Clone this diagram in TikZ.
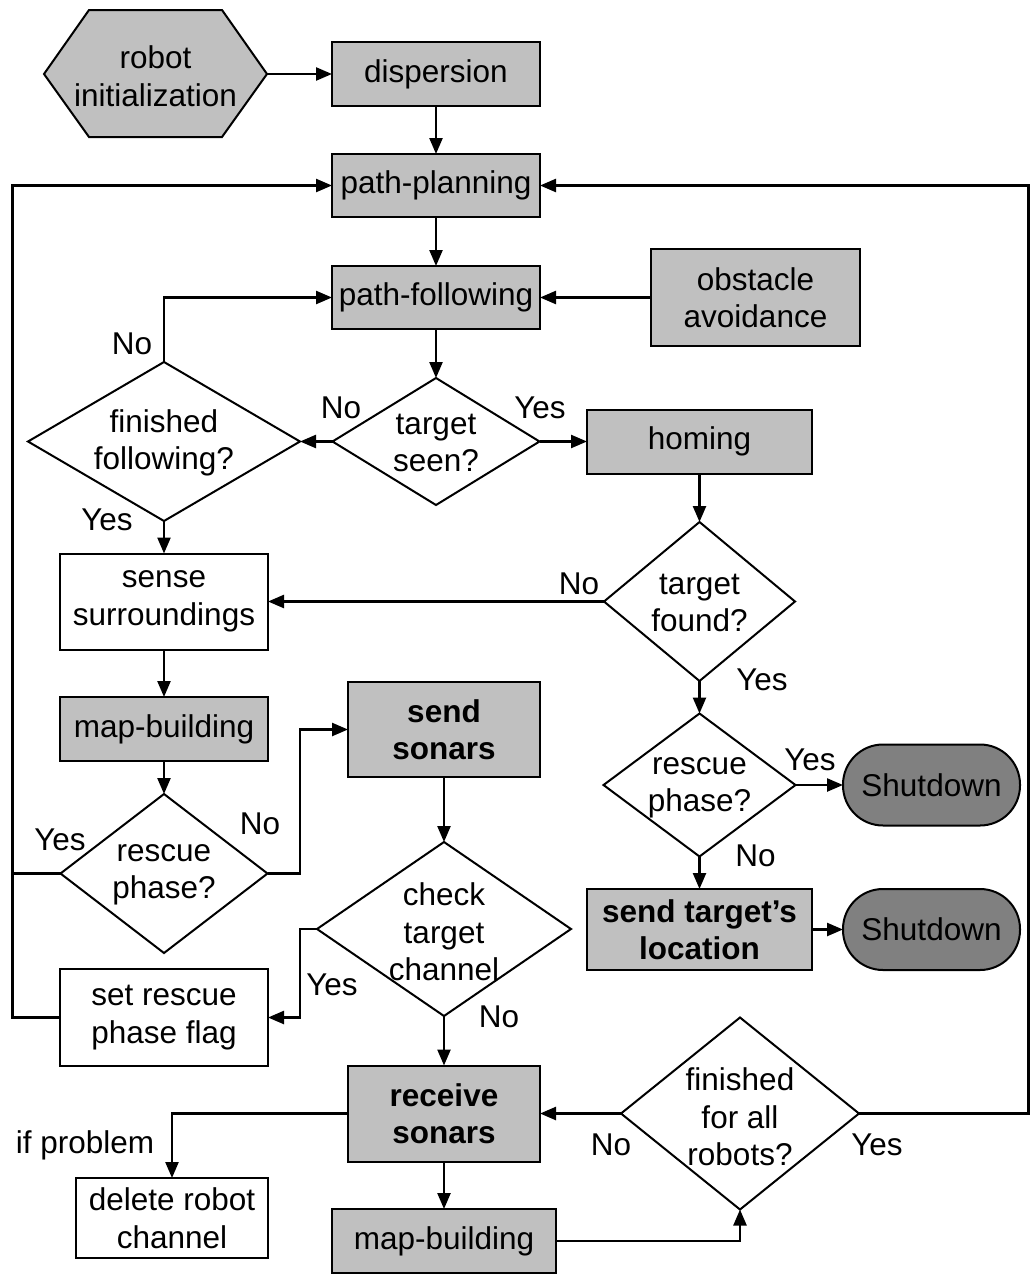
\documentclass[tikz,border=0pt]{standalone}
\usepackage{fontspec}
\setmainfont{Liberation Sans}
\usetikzlibrary{shapes.geometric,arrows.meta}
\definecolor{boxgrey}{RGB}{192,192,192}
\definecolor{endgrey}{RGB}{128,128,128}

\begin{document}
\begin{tikzpicture}[x=1pt,y=-1pt,
  every node/.style={font=\fontsize{31.5}{37.5}\selectfont, align=center, inner sep=0pt, outer sep=0pt},
  frame/.style={draw, line width=2pt, rectangle},
  proc/.style={frame, fill=boxgrey},
  plain/.style={frame, fill=white},
  term/.style={frame, fill=endgrey, rounded corners=40pt},
  decision/.style={diamond, draw, line width=2pt, fill=white},
  sz/.style 2 args={minimum width=#1, minimum height=#2},
  conn/.style={line width=2.4pt, -{Triangle[length=16pt,width=13pt]}},
  wire/.style={line width=2.4pt},
  lbl/.style={}]

\useasboundingbox (0,0) rectangle (1030,1274);

% start: hexagonal initialisation block
\draw[fill=boxgrey, line width=2pt]
  (44,74) -- (89,10) -- (222,10) -- (267,74) -- (222,137) -- (89,137) -- cycle;
\node (init) at (155.5,76) {robot\\initialization};
\coordinate (hexE) at (267,74);

% process boxes
\node[proc, sz={208}{64}] (disp)   at (436,74)    {dispersion};
\node[proc, sz={208}{63}] (plan)   at (436,185.5) {path-planning};
\node[proc, sz={208}{63}] (follow) at (436,297.5) {path-following};
\node[proc, sz={209}{97}] (obst)   at (755.5,297.5) {obstacle\\avoidance};
\node[proc, sz={225}{64}] (homing) at (699.5,441.5) {homing};
\node[plain, sz={208}{96}] (sense) at (164,601.5) {sense\\surroundings};
\node[proc, sz={208}{64}] (mapL)   at (164,729)   {map-building};
\node[proc, sz={192}{95}] (sonars) at (444,729.5) {\bfseries send\\\bfseries sonars};
\node[plain, sz={208}{97}] (flag)  at (164,1017.5) {set rescue\\phase flag};
\node[proc, sz={225}{81}] (sendloc) at (699.5,929.5) {\bfseries send target’s\\\bfseries location};
\node[term, sz={177}{81}] (shut1)  at (931.5,785) {Shutdown};
\node[term, sz={177}{81}] (shut2)  at (931.5,929.5) {Shutdown};
\node[proc, sz={192}{96}] (recv)   at (444,1113.5) {\bfseries receive\\\bfseries sonars};
\node[plain, sz={192}{80}] (del)   at (172,1218)  {delete robot\\channel};
\node[proc, sz={224}{64}] (mapB)   at (444,1241)  {map-building};

% decisions
\node[decision, sz={207}{127}] (seen)  at (436,441.5) {};
\node (seenT) at (436,443) {target\\seen?};
\node[decision, sz={272}{159}] (fin)   at (164,441.5) {};
\node (finT) at (164,443) {finished\\following?};
\node[decision, sz={191}{159}] (found) at (699.5,601.5) {};
\node (foundT) at (699.5,603) {target\\found?};
\node[decision, sz={207}{159}] (rescL) at (164,873.5) {};
\node (rescLT) at (164,875) {rescue\\phase?};
\node[decision, sz={192}{143}] (rescR) at (699.5,785) {};
\node (rescRT) at (699.5,788) {rescue\\phase?};
\node[decision, sz={254}{174}] (check) at (444,929) {};
\node (checkT) at (444,932) {check\\target\\channel};
\node[decision, sz={238}{192}] (all)   at (740,1113.5) {};
\node (allT) at (740,1117) {finished\\for all\\robots?};

% routing rails and bends
\coordinate (leftrail)  at (12.5,600);
\coordinate (rightrail) at (1028.5,600);
\coordinate (bendA)     at (300,900);

% connectors
\draw[conn] (hexE) -- (disp.west);
\draw[conn] (disp.south) -- (plan.north);
\draw[conn] (plan.south) -- (follow.north);
\draw[conn] (follow.south) -- (seen.north);
\draw[conn] (obst.west) -- (follow.east);
\draw[conn] (seen.west) -- (fin.east);
\draw[conn] (seen.east) -- (homing.west);
\draw[conn] (fin.north) |- (follow.west);
\draw[conn] (fin.south) -- (sense.north);
\draw[conn] (homing.south) -- (found.north);
\draw[conn] (found.west) -- (sense.east);
\draw[conn] (found.south) -- (rescR.north);
\draw[conn] (rescR.east) -- (shut1.west);
\draw[conn] (rescR.south) -- (sendloc.north);
\draw[conn] (sendloc.east) -- (shut2.west);
\draw[conn] (sense.south) -- (mapL.north);
\draw[conn] (mapL.south) -- (rescL.north);
\draw[conn] (rescL.east) -- (rescL.east -| bendA) |- (sonars.west);
\draw[conn] (sonars.south) -- (check.north);
\draw[conn] (check.west) -- (check.west -| bendA) |- (flag.east);
\draw[wire] (rescL.west) -- (rescL.west -| leftrail);
\draw[conn] (flag.west) -- (flag.west -| leftrail) |- (plan.west);
\draw[conn] (check.south) -- (recv.north);
\draw[conn] (recv.west) -| (del.north);
\draw[conn] (recv.south) -- (mapB.north);
\draw[conn] (mapB.east) -| (all.south);
\draw[conn] (all.west) -- (recv.east);
\draw[conn] (all.east) -- (all.east -| rightrail) |- (plan.east);

% branch labels
\node[lbl] (l1)  at (132,344)  {No};
\node[lbl] (l2)  at (341,408)  {No};
\node[lbl] (l3)  at (540,408)  {Yes};
\node[lbl] (l4)  at (107,520)  {Yes};
\node[lbl] (l5)  at (579,584)  {No};
\node[lbl] (l6)  at (762,680)  {Yes};
\node[lbl] (l7)  at (60,840)   {Yes};
\node[lbl] (l8)  at (260,824)  {No};
\node[lbl] (l9)  at (332,985)  {Yes};
\node[lbl] (l10) at (499,1017) {No};
\node[lbl] (l11) at (810,760)  {Yes};
\node[lbl] (l12) at (755.5,856) {No};
\node[lbl] (l13) at (85,1145)  {if problem};
\node[lbl] (l14) at (611,1145) {No};
\node[lbl] (l15) at (877,1145) {Yes};
\end{tikzpicture}
\end{document}
